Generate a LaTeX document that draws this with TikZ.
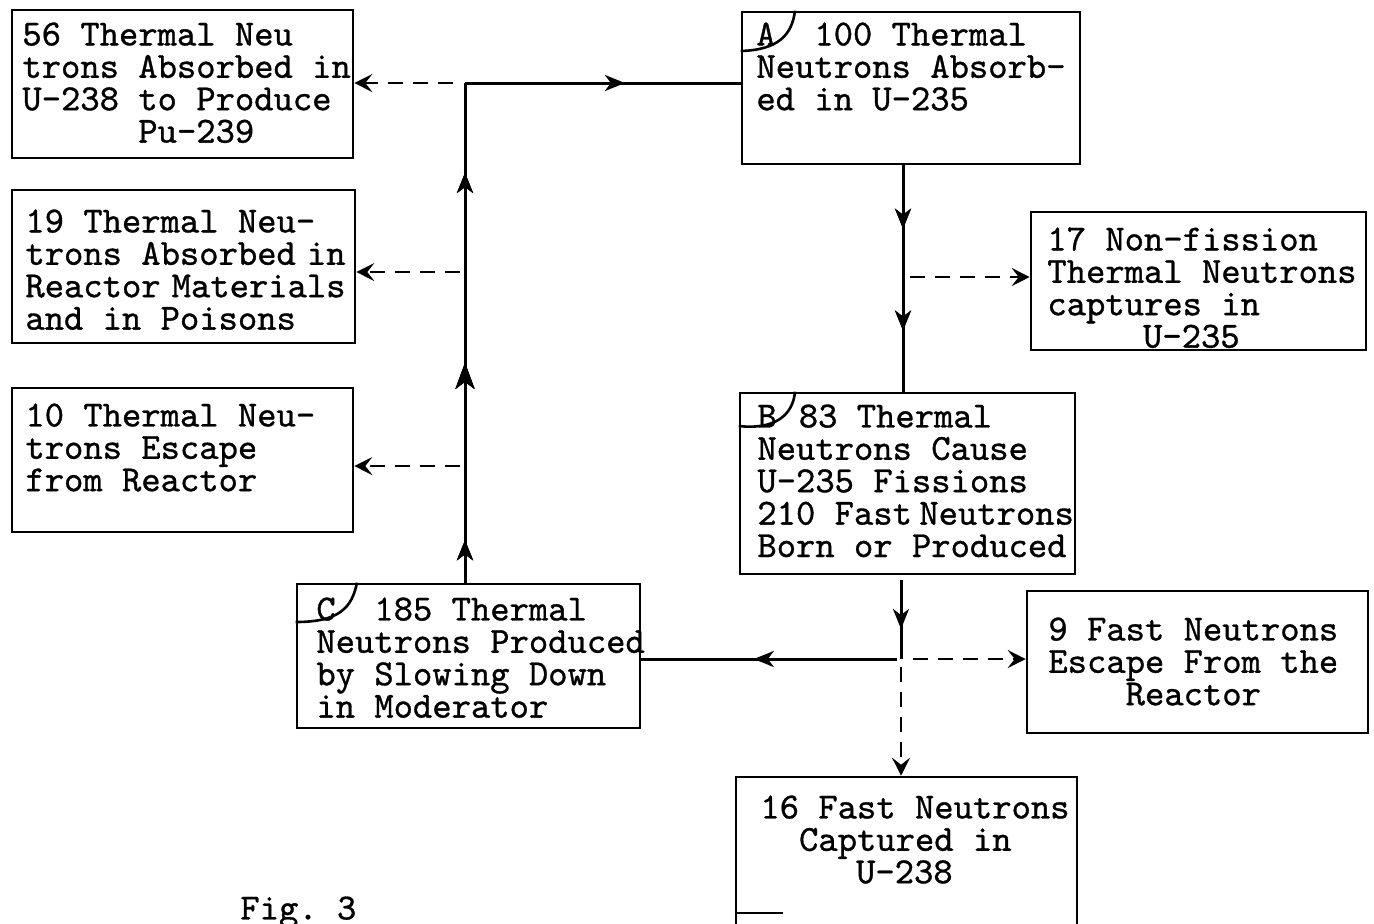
\documentclass[tikz,border=0pt]{standalone}
\usepackage{fontspec}
\newfontfamily\tw[FakeBold=0.9]{lmmono10-regular.otf}
\usetikzlibrary{arrows.meta,decorations.markings,fit}
\begin{document}
\begin{tikzpicture}[x=0.5pt,y=-0.5pt,
  bx/.style={draw, line width=1.3pt, inner sep=0pt},
  txt/.style={anchor=north west, inner sep=0pt, align=left, font=\tw\fontsize{18.4}{16.2}\selectfont\frenchspacing},
  flow/.style={line width=1.5pt},
  dsh/.style={line width=1.1pt, dash pattern=on 7.5pt off 5pt, -{Stealth[length=9pt,width=9pt,inset=3.5pt]}},
  mk/.style={postaction={decorate}, decoration={markings,
     mark=at position #1 with {\arrow{Stealth[length=10pt,width=8pt,inset=3pt]}}}},
  mkbig/.style={postaction={decorate}, decoration={markings,
     mark=at position #1 with {\arrow{Stealth[length=13pt,width=9.5pt,inset=3.5pt]}}}},
  crv/.style={line width=1.3pt}
]
\useasboundingbox[fill=white] (0,0) rectangle (1374,923);

% boxes
\node[bx, fit={(12,10) (353,158)}] (n56) {};
\node[bx, fit={(12,190) (355,343)}] (n19) {};
\node[bx, fit={(12,388) (353,532)}] (n10) {};
\node[bx, fit={(742,12) (1080,164)}] (nA) {};
\node[bx, fit={(1031,212) (1366,350)}] (n17) {};
\node[bx, fit={(740,393) (1075,574)}] (nB) {};
\node[bx, fit={(297,584) (640,728)}] (nC) {};
\node[bx, fit={(1027,591) (1368,733)}] (n9) {};
\node[bx, fit={(736,777) (1077,940)}] (n16) {};
\draw[line width=1.3pt] (n16.west |- 0,913) -- (783,913);

% texts
\node[txt] (t56) at (22,45-30) {\rule{0pt}{15pt}56 Thermal Neu\\trons Absorbed in\\U-238 to Produce\\\hspace*{3.15em}Pu-239};
\node[txt] (t19) at (25,232-30) {\rule{0pt}{15pt}19 Thermal Neu-\\trons Absorbed\hspace{0.3em}in\\Reactor\hspace{0.3em}Materials\\and in Poisons};
\node[txt] (t10) at (25,426-30) {\rule{0pt}{15pt}10 Thermal Neu-\\trons Escape\\from Reactor};
\node[txt] (tA) at (756,45-30) {\rule{0pt}{15pt}A\hspace*{1.05em}100 Thermal\\Neutrons Absorb-\\ed in U-235};
\node[txt] (t17) at (1047,250-30) {\rule{0pt}{15pt}17 Non-fission\\Thermal Neutrons\\captures in\\\hspace*{2.6em}U-235};
\node[txt] (tB) at (757,427-30) {\rule{0pt}{15pt}B\hspace*{0.6em}83 Thermal\\Neutrons Cause\\U-235 Fissions\\210 Fast\hspace{0.2em}Neutrons\\Born or Produced};
\node[txt] (tC) at (316,620-30) {\rule{0pt}{15pt}C\hspace*{1.05em}185 Thermal\\Neutrons Produced\\by Slowing Down\\in Moderator};
\node[txt] (t9) at (1048,640-30) {\rule{0pt}{15pt}9 Fast Neutrons\\Escape From the\\\hspace*{2.1em}Reactor};
\node[txt] (t16) at (760,818-30) {\rule{0pt}{15pt}16 Fast Neutrons\\\hspace*{1.05em}Captured in\\\hspace*{2.6em}U-238};
\node[txt] (fig) at (240,919-30) {\rule{0pt}{15pt}Fig. 3};

% corner marks
\draw[crv] (nA.north -| 795,0) .. controls (792,35) and (778,50) .. (nA.west |- 0,51);
\draw[crv] (nB.north -| 795,0) .. controls (793,415) and (775,430) .. (nB.west |- 0,426);
\draw[crv] (nC.north -| 357,0) .. controls (352,607) and (340,622) .. (nC.west |- 0,622);

% connectors
\coordinate (J) at (465,83);
\coordinate (R) at (903,0);
\coordinate (K) at (901,659);
\coordinate (Ks) at (901,580);
\coordinate (Kl) at (897,659);
\coordinate (Kr) at (913,659);
\coordinate (Kd) at (901,667);

\draw[flow, mk=0.085, mkbig=0.44, mk=0.82] (J |- nC.north) -- (J);
\draw[flow, mk=0.58] (J) -- (J -| nA.west);
\coordinate (d56) at (453,83);
\draw[dsh] (d56) -- (d56 -| n56.east);
\coordinate (d19) at (460,272);
\draw[dsh] (d19) -- (d19 -| n19.east);
\coordinate (d10) at (460,466);
\draw[dsh] (d10) -- (d10 -| n10.east);

\draw[flow, mk=0.28, mk=0.73] (nA.south -| R) -- (nB.north -| R);
\coordinate (d17) at (910,277);
\draw[dsh] (d17) -- (d17 -| n17.west);

\draw[flow, mk=0.62] (Ks) -- (K);
\draw[flow, mk=0.56] (Kl) -- (Kl -| nC.east);
\draw[dsh] (Kr) -- (Kr -| n9.west);
\draw[dsh] (Kd) -- (Kd |- n16.north);
\end{tikzpicture}
\end{document}
